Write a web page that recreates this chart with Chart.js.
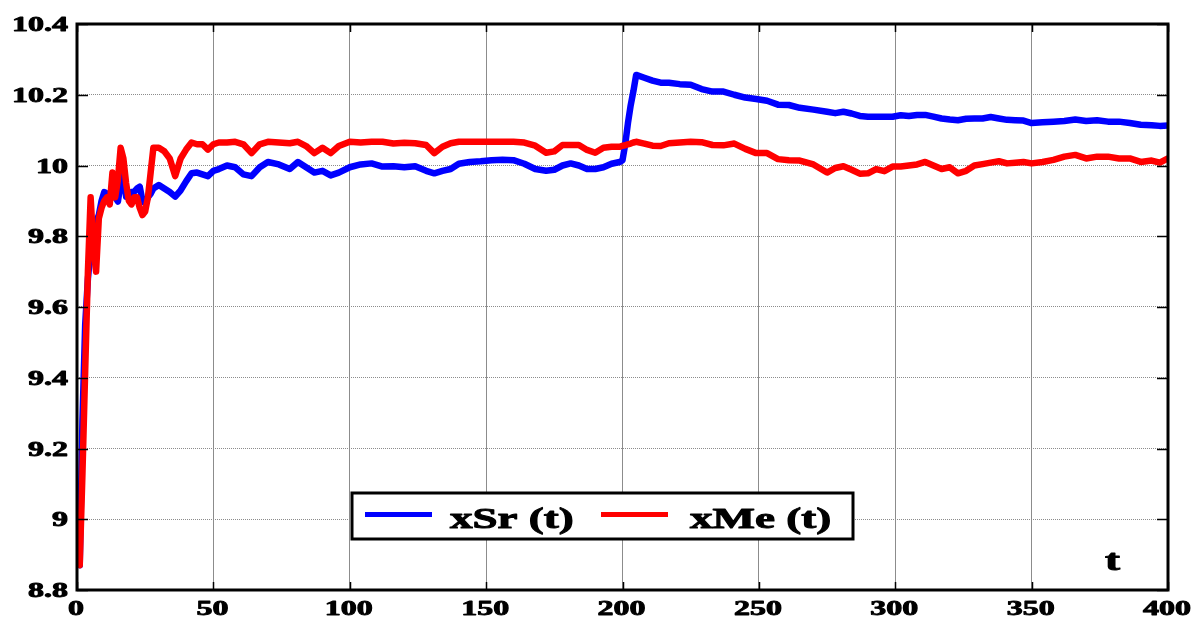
<!DOCTYPE html>
<html>
<head>
<meta charset="utf-8">
<script src="https://cdn.jsdelivr.net/npm/chart.js@4/dist/chart.umd.min.js"></script>
<style>
  html, body { margin: 0; padding: 0; background: #ffffff; }
  #c { display: block; }
</style>
</head>
<body>
<canvas id="c" width="1204" height="618"></canvas>
<script>
// ---- data ----
const tValues = [
  1,2,3,4,5,6,7,8,9,10,11,12,13,14,15,16,17,18,19,20,21,22,23,24,25,26,27,28,
  30,32,34,36,38,40,42,44,46,48,50,
  52,55,58,61,64,67,70,
  74,78,81,84,87,90,93,96,
  100,104,108,112,116,120,124,128,
  131,134,137,140,144,148,152,156,160,164,168,172,
  175,178,181,184,187,190,193,196,199,
  200,201,202,203,204,205,
  208,211,214,217,221,225,229,233,237,241,245,249,253,257,261,265,270,
  275,278,281,284,287,290,293,296,299,302,305,308,311,314,317,320,323,326,329,332,335,338,341,344,347,350,
  354,358,362,366,370,374,378,382,386,390,394,397,400
];
const xSr = [
  8.87,9.28,9.55,9.68,9.76,9.81,9.84,9.86,9.90,9.925,9.92,9.91,9.915,9.91,9.898,9.95,9.975,9.912,9.915,9.925,9.926,9.935,9.94,9.9,9.893,9.91,9.92,9.935,
  9.945,9.935,9.925,9.912,9.93,9.955,9.978,9.98,9.975,9.97,9.985,
  9.99,10.0,9.995,9.975,9.97,9.995,10.01,
  10.003,9.99,10.01,9.995,9.98,9.985,9.972,9.98,
  9.995,10.003,10.006,9.997,9.998,9.995,9.998,9.985,
  9.978,9.985,9.99,10.005,10.01,10.012,10.015,10.016,10.015,10.005,9.99,9.985,
  9.988,10.0,10.006,10.0,9.99,9.99,9.995,10.005,10.01,
  10.015,10.06,10.12,10.17,10.21,10.256,
  10.248,10.24,10.234,10.234,10.23,10.228,10.216,10.209,10.209,10.2,10.192,10.188,10.183,10.172,10.171,10.163,10.158,
  10.152,10.148,10.152,10.147,10.14,10.138,10.138,10.138,10.138,10.142,10.14,10.143,10.143,10.138,10.133,10.13,10.128,10.132,10.133,10.133,10.137,10.133,10.129,10.128,10.127,10.12,
  10.122,10.124,10.126,10.13,10.126,10.128,10.124,10.124,10.12,10.115,10.114,10.112,10.113
];
const xMe = [
  8.87,9.13,9.42,9.70,9.91,9.77,9.70,9.85,9.88,9.90,9.91,9.89,9.98,9.91,9.96,10.05,10.02,9.95,9.90,9.89,9.91,9.91,9.88,9.86,9.87,9.91,9.98,10.05,
  10.05,10.04,10.02,9.97,10.02,10.045,10.065,10.06,10.06,10.045,10.06,
  10.065,10.065,10.067,10.06,10.035,10.06,10.067,
  10.065,10.063,10.067,10.055,10.035,10.05,10.035,10.055,
  10.067,10.065,10.067,10.067,10.062,10.064,10.063,10.058,
  10.035,10.053,10.063,10.067,10.067,10.067,10.067,10.067,10.067,10.065,10.056,10.036,
  10.04,10.058,10.058,10.058,10.044,10.036,10.05,10.053,10.053,
  10.056,10.057,10.06,10.062,10.065,10.067,
  10.062,10.056,10.055,10.063,10.065,10.067,10.066,10.058,10.057,10.062,10.047,10.035,10.035,10.018,10.015,10.014,10.003,
  9.98,9.993,9.998,9.988,9.977,9.978,9.99,9.984,9.997,9.997,10.0,10.003,10.01,10.0,9.99,9.995,9.978,9.985,10.0,10.004,10.008,10.012,10.006,10.008,10.01,10.006,
  10.01,10.016,10.025,10.03,10.02,10.025,10.025,10.02,10.02,10.01,10.014,10.008,10.02
];
const seriesLabels = ['xSr (t)', 'xMe (t)'];
const xTickValues = [0,50,100,150,200,250,300,350,400];
const xTickLabels = ['0','50','100','150','200','250','300','350','400'];
const yTickValues = [8.8,9,9.2,9.4,9.6,9.8,10,10.2,10.4];
const yTickLabels = ['8.8','9','9.2','9.4','9.6','9.8','10','10.2','10.4'];
const xAxisTitle = 't';

// ---- build points ----
const ptsSr = tValues.map((t, i) => ({ x: t, y: xSr[i] }));
const ptsMe = tValues.map((t, i) => ({ x: t, y: xMe[i] }));

const SERIF = '"Liberation Serif", "Times New Roman", serif';

function stretchedText(ctx, text, x, y, font, sx, align, weight) {
  ctx.save();
  ctx.font = font;
  ctx.fillStyle = '#000';
  ctx.strokeStyle = '#000';
  ctx.lineJoin = 'round';
  ctx.lineWidth = weight;
  ctx.textBaseline = 'alphabetic';
  ctx.textAlign = align;
  ctx.translate(x, y);
  ctx.scale(sx, 1);
  ctx.fillText(text, 0, 0);
  if (weight > 0) ctx.strokeText(text, 0, 0);
  ctx.restore();
}

const decorPlugin = {
  id: 'decor',
  afterDatasetsDraw(chart) {
    const ctx = chart.ctx;
    const ca = chart.chartArea;
    const xs = chart.scales.x, ys = chart.scales.y;

    // inward tick marks
    ctx.save();
    ctx.strokeStyle = '#000';
    ctx.lineWidth = 1.5;
    ctx.beginPath();
    yTickValues.forEach(v => {
      const y = Math.round(ys.getPixelForValue(v)) + 0.5;
      ctx.moveTo(ca.left, y); ctx.lineTo(ca.left + 11, y);
      ctx.moveTo(ca.right, y); ctx.lineTo(ca.right - 11, y);
    });
    xTickValues.forEach(v => {
      const x = Math.round(xs.getPixelForValue(v)) + 0.5;
      ctx.moveTo(x, ca.bottom); ctx.lineTo(x, ca.bottom - 8);
      ctx.moveTo(x, ca.top); ctx.lineTo(x, ca.top + 8);
    });
    ctx.stroke();

    // frame
    ctx.lineWidth = 3;
    ctx.strokeRect(ca.left, ca.top, ca.right - ca.left, ca.bottom - ca.top);
    ctx.restore();

    // tick labels
    const tickFont = 'bold 20px ' + SERIF;
    yTickValues.forEach((v, i) => {
      const y = ys.getPixelForValue(v);
      stretchedText(ctx, yTickLabels[i], 68, y + 7, tickFont, 1.6, 'right', 0.9);
    });
    xTickValues.forEach((v, i) => {
      const x = xs.getPixelForValue(v);
      stretchedText(ctx, xTickLabels[i], x - 1, 615, tickFont, 1.6, 'center', 0.9);
    });

    // axis title "t"
    stretchedText(ctx, xAxisTitle, 1105, 570, 'bold 30px ' + SERIF, 1.5, 'left', 1);

    // legend box
    const ds = chart.data.datasets;
    ctx.save();
    ctx.fillStyle = '#fff';
    ctx.fillRect(352, 493, 501, 46);
    ctx.strokeStyle = '#000';
    ctx.lineWidth = 3;
    ctx.strokeRect(352, 493, 501, 46);
    const entries = [
      { ds: ds[0], x0: 365, x1: 432, tx: 450 },
      { ds: ds[1], x0: 601, x1: 668, tx: 690 }
    ];
    entries.forEach(e => {
      ctx.strokeStyle = e.ds.borderColor;
      ctx.lineWidth = 5;
      ctx.beginPath();
      ctx.moveTo(e.x0, 514.5); ctx.lineTo(e.x1, 514.5);
      ctx.stroke();
    });
    ctx.restore();
    entries.forEach(e => {
      stretchedText(ctx, e.ds.label, e.tx, 528, 'bold 30px ' + SERIF, 1.5, 'left', 1);
    });
  }
};

new Chart(document.getElementById('c'), {
  type: 'line',
  data: {
    datasets: [
      { label: seriesLabels[0], data: ptsSr, borderColor: '#0000ff', backgroundColor: '#0000ff',
        borderWidth: 6.5, pointRadius: 0, tension: 0, order: 1,
        borderJoinStyle: 'round', borderCapStyle: 'round' },
      { label: seriesLabels[1], data: ptsMe, borderColor: '#ff0000', backgroundColor: '#ff0000',
        borderWidth: 6.5, pointRadius: 0, tension: 0, order: 0,
        borderJoinStyle: 'round', borderCapStyle: 'round' }
    ]
  },
  options: {
    responsive: false,
    animation: false,
    devicePixelRatio: 1,
    layout: { padding: { top: 24, right: 36, left: 0, bottom: 0 } },
    plugins: { legend: { display: false }, tooltip: { enabled: false } },
    scales: {
      x: {
        type: 'linear', min: 0, max: 400,
        ticks: { stepSize: 50, display: false },
        grid: { color: '#8c8c8c', lineWidth: 1, drawTicks: false },
        border: { display: false },
        afterFit(scale) { scale.height = 28; }
      },
      y: {
        type: 'linear', min: 8.8, max: 10.4,
        ticks: { stepSize: 0.2, display: false },
        grid: { color: '#8c8c8c', lineWidth: 1, drawTicks: false },
        border: { display: false, dash: [1, 1] },
        afterFit(scale) { scale.width = 77; }
      }
    }
  },
  plugins: [decorPlugin]
});
</script>
</body>
</html>
